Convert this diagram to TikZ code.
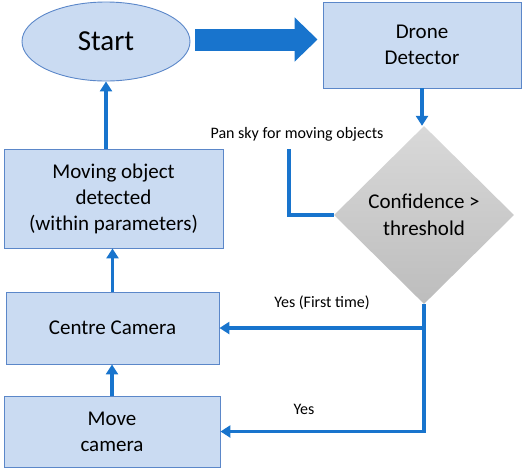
\documentclass[tikz,border=0pt]{standalone}
\usepackage{fontspec}
\setmainfont{Carlito}
\usetikzlibrary{shapes.geometric,arrows.meta}
\definecolor{boxfill}{HTML}{CADBF2}
\definecolor{boxline}{HTML}{5B87C9}
\definecolor{flowblue}{HTML}{1874CD}
\tikzset{
  stepbox/.style={draw=boxline, line width=0.9pt, fill=boxfill, align=center,
    font=\fontsize{21}{26}\selectfont, inner sep=0pt},
  decide/.style={diamond, top color=gray!30, bottom color=gray!52, draw=none,
    align=center, font=\fontsize{21}{27}\selectfont, inner sep=0pt},
  flow/.style={flowblue, line width=3.5pt, -{Triangle[length=10pt,width=12pt]}},
  bigflow/.style={flowblue, line width=22pt, -{Triangle[length=23pt,width=43pt]}},
  lbl/.style={font=\fontsize{16}{19}\selectfont, inner sep=0pt}
}
\begin{document}
\begin{tikzpicture}[x=1pt, y=-1pt]
\useasboundingbox (0,0) rectangle (526,472);
% boxes
\node[stepbox, ellipse, minimum width=168pt, minimum height=79pt,
  font=\fontsize{29}{34}\selectfont] (start) at (106,41.5) {Start};
\node[stepbox, minimum width=198pt, minimum height=86pt] (detector) at (422,45) {Drone\\Detector};
\node[decide, minimum width=180pt, minimum height=178pt, aspect=1] (conf) at (424,215) {Confidence >\\threshold};
\node[stepbox, minimum width=219pt, minimum height=99pt] (moving) at (113.5,198.5)
  {Moving object\\detected\\(within parameters)};
\node[stepbox, minimum width=213pt, minimum height=72pt] (centre) at (112.5,328) {Centre Camera};
\node[stepbox, minimum width=216pt, minimum height=71pt] (move) at (112,431.5) {Move\\camera};
% labels
\node[lbl] (panlbl) at (297,134) {Pan sky for moving objects};
\node[lbl] (firstlbl) at (322,303) {Yes (First time)};
\node[lbl] (yeslbl) at (304,409) {Yes};
\coordinate (pan) at (289,149);
\coordinate (split) at (conf.south |- centre.east);
% connectors
\draw[bigflow] ([xshift=5pt,yshift=2pt]start.east) -- ([xshift=-5pt,yshift=2pt]start.east -| detector.west);
\draw[flow] (detector.south) -- (detector.south |- conf.north);
\draw[flowblue, line width=3.5pt] (conf.west) -| (pan);
\draw[flow] (conf.south) |- (move.east);
\draw[flow] (split) -- (centre.east);
\draw[flow] (move.north) -- (move.north |- centre.south);
\draw[flow] (centre.north) -- (centre.north |- moving.south);
\draw[flow] (moving.north -| start.south) -- (start.south);
\end{tikzpicture}
\end{document}
